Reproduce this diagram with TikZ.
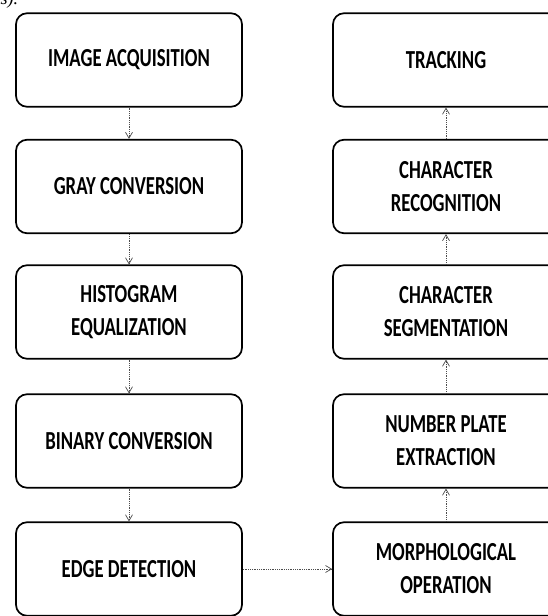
\documentclass[tikz,border=0pt]{standalone}
\usepackage{fontspec}
\usetikzlibrary{arrows.meta}
\newfontfamily\boxfont[FakeStretch=0.72]{Carlito}
\newfontfamily\fragfont{Liberation Serif}
\tikzset{
  stepbox/.style={draw=black, line width=1.7pt, rounded corners=11pt, fill=white,
    minimum width=226pt, minimum height=93.5pt, inner sep=0pt, align=center,
    font=\boxfont\bfseries\fontsize{26}{33}\selectfont},
  flow/.style={draw=black!70, line width=0.8pt, densely dotted,
    -{Straight Barb[length=6pt,width=7pt,line width=0.7pt,sep=0pt]}},
}
\begin{document}
\begin{tikzpicture}[x=1pt,y=-1pt]
\useasboundingbox (0,0) rectangle (548,616);
\clip (0,0) rectangle (548,616);
\fill[white] (0,0) rectangle (548,616);
\node[anchor=base west, font=\fragfont\itshape\fontsize{18}{20}\selectfont] (frag) at (-3,4) {s).};
% left column
\node[stepbox] (acq)  at (129,60)    {IMAGE ACQUISITION};
\node[stepbox] (gray) at (129,186.5) {GRAY CONVERSION};
\node[stepbox] (hist) at (129,312)   {HISTOGRAM\\EQUALIZATION};
\node[stepbox] (bin)  at (129,441)   {BINARY CONVERSION};
\node[stepbox] (edge) at (129,569)   {EDGE DETECTION};
% right column
\node[stepbox] (track) at (446,60)    {TRACKING};
\node[stepbox] (recog) at (446,186.5) {CHARACTER\\RECOGNITION};
\node[stepbox] (seg)   at (446,312)   {CHARACTER\\SEGMENTATION};
\node[stepbox] (plate) at (446,441)   {NUMBER PLATE\\EXTRACTION};
\node[stepbox] (morph) at (446,569)   {MORPHOLOGICAL\\OPERATION};
% connectors
\draw[flow] (acq) -- (gray);
\draw[flow] (gray) -- (hist);
\draw[flow] (hist) -- (bin);
\draw[flow] (bin) -- (edge);
\draw[flow] (edge) -- (morph);
\draw[flow] (morph) -- (plate);
\draw[flow] (plate) -- (seg);
\draw[flow] (seg) -- (recog);
\draw[flow] (recog) -- (track);
\end{tikzpicture}
\end{document}
